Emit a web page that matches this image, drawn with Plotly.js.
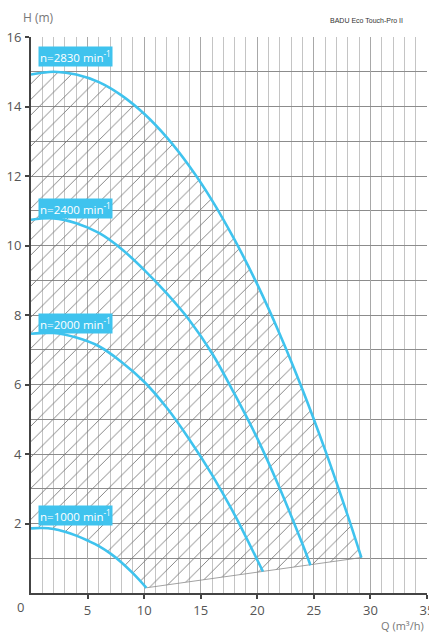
<!DOCTYPE html>
<html>
<head>
<meta charset="utf-8">
<script src="https://cdn.plot.ly/plotly-3.0.1.min.js"></script>
<style>html,body{margin:0;padding:0;background:#fff}#chart{width:429px;height:634px}</style>
</head>
<body>
<div id="chart"></div>
<script>
// Pump curves: flow Q (m³/h) vs head H (m)
var q2830 = [0, 2, 4, 6, 8, 10, 12, 14, 16, 18, 20, 22, 24, 26, 28, 29.2];
var h2830 = [14.92, 15.0, 14.92, 14.7, 14.32, 13.79, 13.11, 12.28, 11.3, 10.16, 8.88, 7.44, 5.85, 4.11, 2.22, 1.02];

var q2400 = [0, 2, 4, 6, 8, 10, 12, 14, 16, 18, 20, 22, 24, 24.7];
var h2400 = [10.74, 10.78, 10.64, 10.36, 9.9, 9.3, 8.62, 7.85, 6.9, 5.72, 4.45, 3.0, 1.4, 0.8];

var q2000 = [0, 2, 4, 6, 8, 10, 12, 14, 16, 18, 20, 20.5];
var h2000 = [7.46, 7.48, 7.35, 7.1, 6.65, 6.08, 5.33, 4.42, 3.4, 2.25, 0.95, 0.62];

var q1000 = [0, 1, 2, 3, 4, 5, 6, 7, 8, 9, 10.2];
var h1000 = [1.86, 1.87, 1.84, 1.76, 1.65, 1.51, 1.35, 1.14, 0.88, 0.57, 0.15];

var speedLabels = ["n=2830 min<sup>-1</sup>", "n=2400 min<sup>-1</sup>", "n=2000 min<sup>-1</sup>", "n=1000 min<sup>-1</sup>"];
var labelH = [15.45, 11.06, 7.75, 2.23];

var xTicks = [5, 10, 15, 20, 25, 30, 35];
var yTicks = [2, 4, 6, 8, 10, 12, 14, 16];

var blue = '#3fc3ee';

// hatched operating area: under max curve, above min curve
var areaX = q2830.concat(q1000.slice().reverse());
var areaY = h2830.concat(h1000.slice().reverse());

var traces = [
  {x: areaX, y: areaY, type: 'scatter', mode: 'lines', fill: 'toself',
   fillcolor: 'rgba(255,255,255,0)',
   fillpattern: {shape: '/', size: 11, solidity: 0.08, fgcolor: '#777', bgcolor: 'rgba(255,255,255,0)'},
   line: {color: '#8a8a8a', width: 0.8}, hoverinfo: 'skip', showlegend: false},
  {x: q2830, y: h2830, type: 'scatter', mode: 'lines', line: {color: blue, width: 2.6, shape: 'spline'}, showlegend: false},
  {x: q2400, y: h2400, type: 'scatter', mode: 'lines', line: {color: blue, width: 2.6, shape: 'spline'}, showlegend: false},
  {x: q2000, y: h2000, type: 'scatter', mode: 'lines', line: {color: blue, width: 2.6, shape: 'spline'}, showlegend: false},
  {x: q1000, y: h1000, type: 'scatter', mode: 'lines', line: {color: blue, width: 2.6, shape: 'spline'}, showlegend: false}
];

var annotations = speedLabels.map(function (t, i) {
  return {x: 0.6, y: labelH[i], xref: 'x', yref: 'y', text: t, showarrow: false,
    xanchor: 'left', yanchor: 'middle', bgcolor: blue, borderpad: 1,
    font: {family: 'Open Sans, sans-serif', size: 11.5, color: '#ffffff'}};
});
annotations.push(
  {x: -10 / 396, y: (593 - 17.5) / 556, xref: 'paper', yref: 'paper', text: 'H (m)', showarrow: false,
   xanchor: 'left', yanchor: 'middle', font: {family: 'Open Sans, sans-serif', size: 12, color: '#777'}},
  {x: (328 - 31) / 396, y: (593 - 20.5) / 556, xref: 'paper', yref: 'paper', text: 'BADU Eco Touch-Pro II', showarrow: false,
   xanchor: 'left', yanchor: 'middle', font: {family: 'Liberation Sans Narrow, Liberation Sans, sans-serif', size: 7, color: '#333'}},
  {x: (426 - 31) / 396, y: (593 - 625.5) / 556, xref: 'paper', yref: 'paper', text: 'Q (m³/h)', showarrow: false,
   xanchor: 'right', yanchor: 'middle', font: {family: 'Open Sans, sans-serif', size: 11, color: '#777'}},
  {x: (20 - 31) / 396, y: (593 - 607) / 556, xref: 'paper', yref: 'paper', text: '0', showarrow: false,
   xanchor: 'center', yanchor: 'middle', font: {family: 'Open Sans, sans-serif', size: 13, color: '#555'}}
);

var layout = {
  width: 429, height: 634,
  margin: {l: 31, r: 2, t: 37, b: 41},
  paper_bgcolor: '#fff', plot_bgcolor: '#fff',
  showlegend: false,
  xaxis: {range: [0, 35], tickvals: xTicks, showgrid: true, gridcolor: '#a8a8a8', gridwidth: 1.2,
    minor: {dtick: 1, tick0: 0, showgrid: true, gridcolor: '#c4c4c4', gridwidth: 1},
    showline: true, linecolor: '#444', linewidth: 2, ticks: 'outside', ticklen: 4, tickcolor: '#444', tickwidth: 2,
    zeroline: false, ticklabeloverflow: 'allow', tickfont: {family: 'Open Sans, sans-serif', size: 13, color: '#555'}, fixedrange: true},
  yaxis: {range: [0, 16], tickvals: yTicks, showgrid: true, gridcolor: '#8c8c8c', gridwidth: 1,
    minor: {dtick: 1, tick0: 0, showgrid: true, gridcolor: '#8c8c8c', gridwidth: 1},
    showline: true, linecolor: '#444', linewidth: 2, ticks: 'outside', ticklen: 4, tickcolor: '#444', tickwidth: 2,
    zeroline: false, ticklabelstandoff: 1, ticklabeloverflow: 'allow', tickfont: {family: 'Open Sans, sans-serif', size: 13, color: '#555'}, fixedrange: true},
  annotations: annotations
};

Plotly.newPlot('chart', traces, layout, {displayModeBar: false, staticPlot: true});
</script>
</body>
</html>
